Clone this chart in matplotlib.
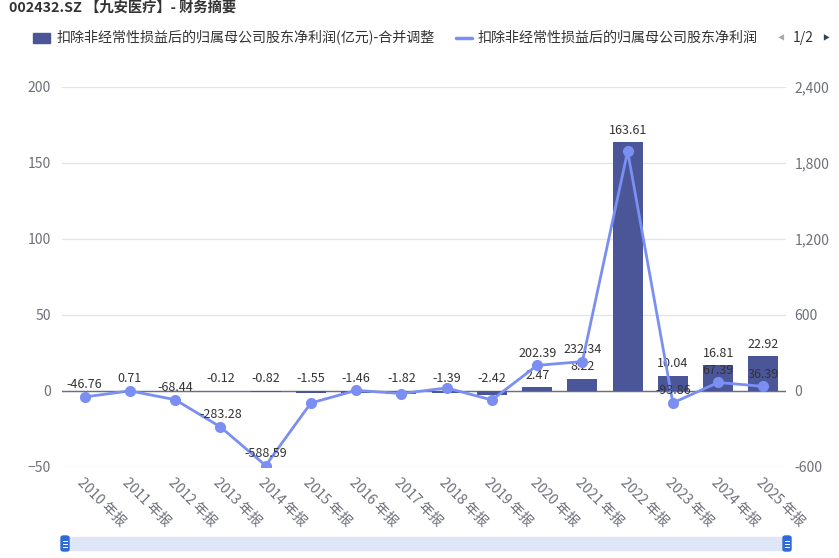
import numpy as np
import matplotlib.pyplot as plt
from matplotlib.patches import FancyBboxPatch, Rectangle
from matplotlib.lines import Line2D

plt.rcParams['font.family'] = ['Noto Sans CJK SC', 'DejaVu Sans']

years = ['2010 年报', '2011 年报', '2012 年报', '2013 年报', '2014 年报', '2015 年报',
         '2016 年报', '2017 年报', '2018 年报', '2019 年报', '2020 年报', '2021 年报',
         '2022 年报', '2023 年报', '2024 年报', '2025 年报']
# 扣非归母净利润(亿元)
profit = [np.nan, np.nan, np.nan, -0.12, -0.82, -1.55, -1.46, -1.82, -1.39, -2.42,
          2.47, 8.22, 163.61, 10.04, 16.81, 22.92]
# 扣非归母净利润同比增长(%)
growth = [-46.76, 0.71, -68.44, -283.28, -588.59, -95.0, 5.0, -20.0, 24.0, -71.0,
          202.39, 232.34, 1893.0, -93.86, 67.39, 36.39]
growth_label_shown = [True, True, True, True, True, False, False, False, False, False,
                      True, True, False, True, True, True]

bar_color = '#4b5699'
line_color = '#7b8ff2'
txt = '#333333'
axis_txt = '#6e7079'

W, H = 839, 558
fig = plt.figure(figsize=(W / 100, H / 100), dpi=100)
ax = fig.add_axes([62 / W, (H - 467) / H, 724 / W, 380 / H])
ax2 = ax.twinx()

x = np.arange(len(years))
ax.bar(x, profit, width=0.66, color=bar_color, zorder=3)
ax.set_xlim(-0.5, len(years) - 0.5)
ax.set_ylim(-50, 200)
ax.set_yticks([-50, 0, 50, 100, 150, 200])
ax2.set_ylim(-600, 2400)
ax2.set_yticks([-600, 0, 600, 1200, 1800, 2400])
ax2.set_yticklabels(['-600', '0', '600', '1,200', '1,800', '2,400'])

ax2.plot(x, growth, color=line_color, lw=2, marker='o', ms=7, zorder=4)

ax.grid(axis='y', color='#e0e6f1', lw=1, zorder=0)
ax.axhline(0, color=axis_txt, lw=1, zorder=2)
for a in (ax, ax2):
    for s in a.spines.values():
        s.set_visible(False)
    a.tick_params(length=0, labelsize=10, labelcolor=axis_txt)
ax.tick_params(axis='y', pad=8)
ax2.tick_params(axis='y', pad=6)

ax.set_xticks(x)
ax.set_xticklabels(years, rotation=-45, ha='left', va='top', rotation_mode='anchor')
ax.tick_params(axis='x', pad=6)

# data labels
for i, v in enumerate(profit):
    if np.isnan(v):
        continue
    ax.annotate(f'{v:.2f}', (i, max(v, 0)), xytext=(0, 4), textcoords='offset points',
                ha='center', va='bottom', fontsize=9, color=txt, zorder=6)
for i, v in enumerate(growth):
    if not growth_label_shown[i]:
        continue
    ax2.annotate(f'{v:.2f}', (i, v), xytext=(0, 4), textcoords='offset points',
                 ha='center', va='bottom', fontsize=9, color=txt, zorder=6)

# title
fig.text(9 / W, 1 - 8 / H, '002432.SZ 【九安医疗】- 财务摘要', fontsize=10.3, fontweight='bold',
         color=txt, ha='left', va='center')

# legend
fig.patches.append(Rectangle((33 / W, 1 - 43 / H), 17 / W, 10 / H, transform=fig.transFigure,
                             color=bar_color))
fig.text(57 / W, 1 - 38 / H, '扣除非经常性损益后的归属母公司股东净利润(亿元)-合并调整',
         fontsize=10.1, color=txt, ha='left', va='center')
fig.lines.append(Line2D([456 / W, 472 / W], [1 - 38 / H, 1 - 38 / H], transform=fig.transFigure,
                        color=line_color, lw=2.5, solid_capstyle='round'))
fig.text(478 / W, 1 - 38 / H, '扣除非经常性损益后的归属母公司股东净利润',
         fontsize=10.1, color=txt, ha='left', va='center')
fig.text(778 / W, 1 - 38 / H, '◀', fontsize=5, color='#aaaaaa', ha='left', va='center')
fig.text(793 / W, 1 - 38 / H, '1/2', fontsize=10, color=txt, ha='left', va='center')
fig.text(822 / W, 1 - 38 / H, '▶', fontsize=5, color='#2f4554', ha='left', va='center')

# data zoom slider
fig.patches.append(Rectangle((64 / W, 1 - 550 / H), 724 / W, 13 / H, transform=fig.transFigure,
                             color='#dfe6f7'))
for hx in (61, 783):
    fig.patches.append(FancyBboxPatch((hx / W, 1 - 551 / H), 8 / W, 15 / H,
                                      boxstyle='round,pad=0,rounding_size=0.003',
                                      transform=fig.transFigure, color='#2f6bd8'))
    for dy in (-3, 0, 3):
        fig.lines.append(Line2D([(hx + 2) / W, (hx + 6) / W],
                                [1 - (544 + dy) / H, 1 - (544 + dy) / H],
                                transform=fig.transFigure, color='white', lw=0.7))

fig.savefig('out.png', dpi=100)
